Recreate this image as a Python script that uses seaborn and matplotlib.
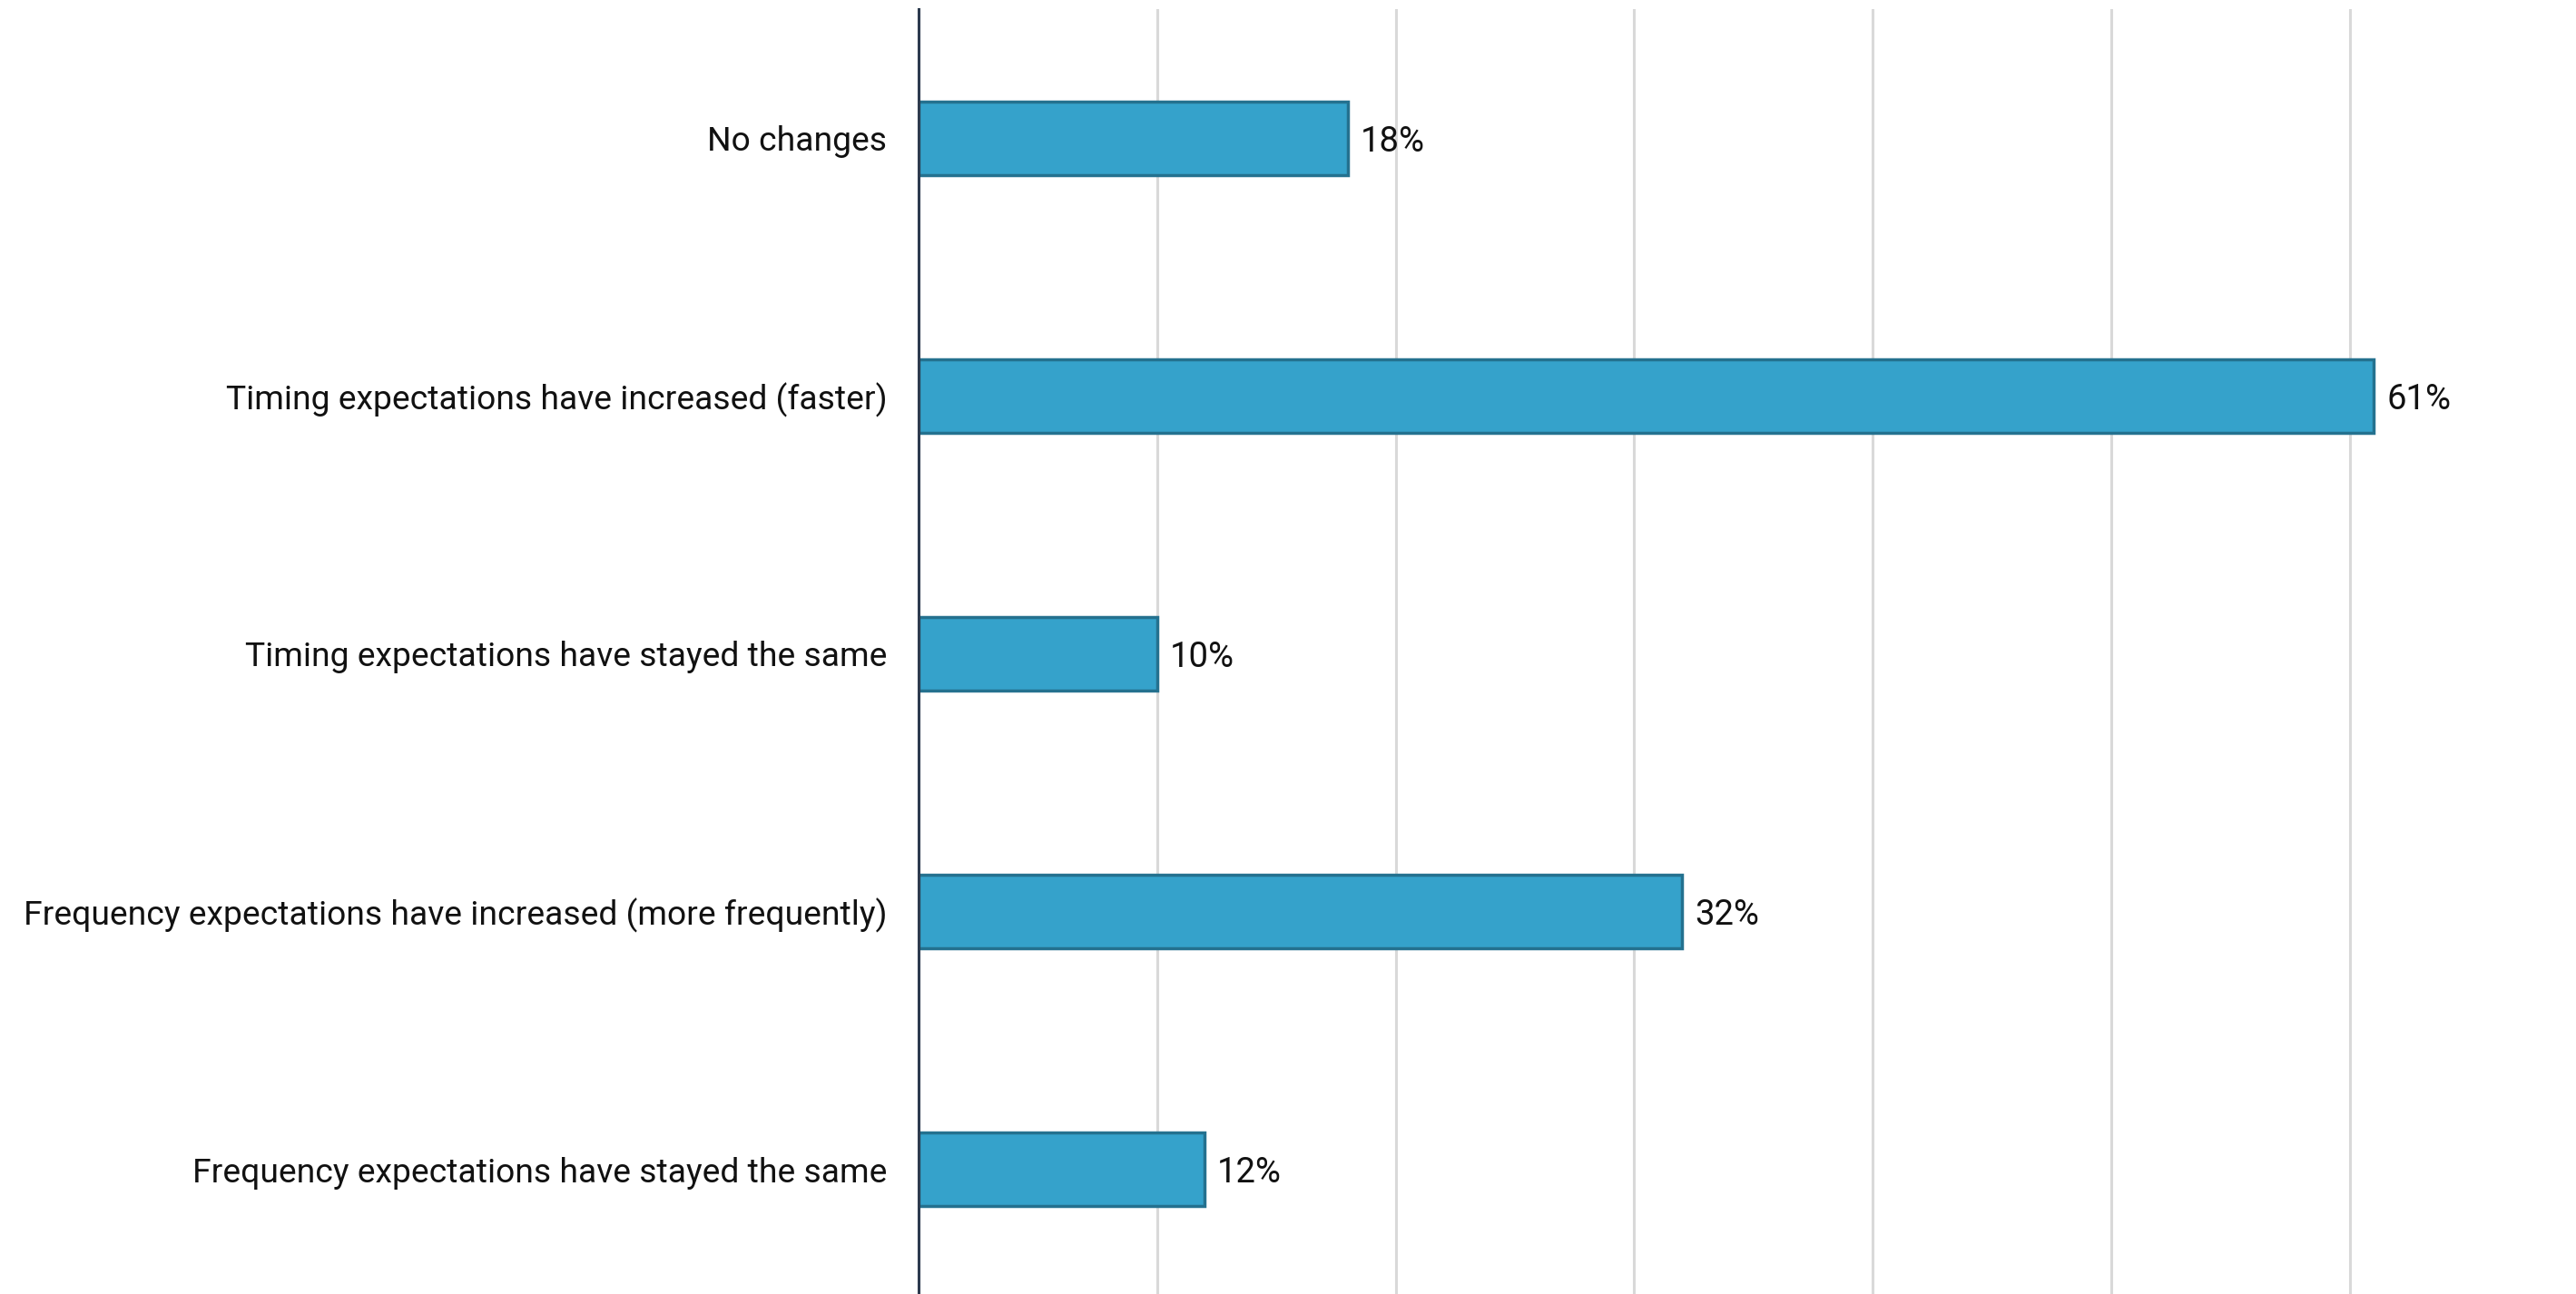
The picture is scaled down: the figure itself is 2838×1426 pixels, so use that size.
import matplotlib

matplotlib.use("Agg")
import matplotlib.pyplot as plt
import seaborn as sns

categories = [
    "No changes",
    "Timing expectations have increased (faster)",
    "Timing expectations have stayed the same",
    "Frequency expectations have increased (more frequently)",
    "Frequency expectations have stayed the same",
]
values = [18, 61, 10, 32, 12]
grid_ticks = [0, 10, 20, 30, 40, 50, 60]

sns.set_style("white")
plt.rcParams["font.family"] = ["Roboto", "DejaVu Sans"]

fig = plt.figure(figsize=(28.38, 14.26), dpi=100)
ax = fig.add_axes([0.3566, -0.0035, 0.6434, 0.9965])

sns.barplot(
    x=values,
    y=categories,
    orient="h",
    color="#35A2CB",
    saturation=1,
    width=0.285,
    edgecolor="#24718F",
    linewidth=2.5,
    ax=ax,
    zorder=3,
)

ax.set_xlim(0, 69.48)
ax.set_ylim(4.5, -0.5)
ax.set_xticks(grid_ticks)
ax.set_xticklabels([])
ax.xaxis.grid(True, color="#D9D9D9", linewidth=2.2)
ax.set_axisbelow(True)
ax.tick_params(axis="both", length=0)
ax.tick_params(axis="y", labelsize=26.8, pad=25, labelcolor="#111111")
ax.set_xlabel("")
ax.set_ylabel("")

for side in ["top", "right", "bottom"]:
    ax.spines[side].set_visible(False)
ax.spines["left"].set_color("#2D3B4E")
ax.spines["left"].set_linewidth(2.2)
ax.spines["left"].set_zorder(5)

for container in ax.containers:
    texts = ax.bar_label(container, labels=[f"{v}%" for v in values], padding=10, fontsize=27.5, color="#111111")
    for t in texts:
        t.set_verticalalignment("center_baseline")

plt.savefig("out.png", dpi=100)
plt.close()
